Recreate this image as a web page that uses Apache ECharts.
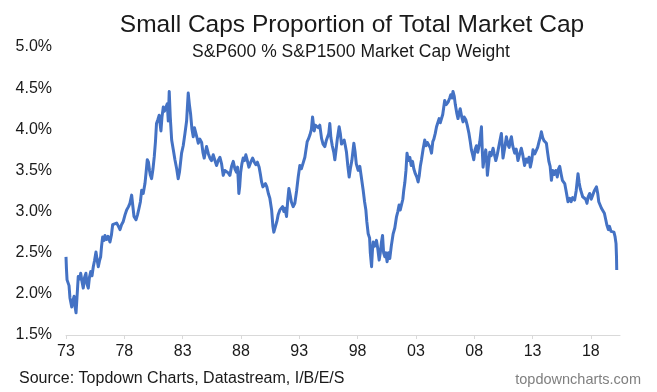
<!DOCTYPE html>
<html>
<head>
<meta charset="utf-8">
<script src="https://cdn.jsdelivr.net/npm/echarts@6/dist/echarts.min.js"></script>
<style>
html,body{margin:0;padding:0;background:#fff;}
#chart{width:657px;height:392px;}
</style>
</head>
<body>
<div id="chart"></div>
<script>
const startYear = 1973;
// years since start (decimal) and S&P600 share of S&P1500 market cap (%)
const yearsSinceStart = [
0.00,0.04,0.09,0.17,0.26,0.34,0.49,0.60,0.69,0.77,0.86,0.94,1.05,1.16,1.26,1.37,1.48,1.59,1.71,1.80,
1.91,2.01,2.12,2.23,2.34,2.44,2.57,2.66,2.77,2.87,2.97,3.05,3.14,3.26,3.34,3.47,3.60,3.77,3.90,4.00,
4.16,4.34,4.50,4.63,4.76,4.91,5.06,5.20,5.36,5.48,5.63,5.72,5.83,6.00,6.13,6.26,6.38,6.49,6.62,6.77,
6.87,6.97,7.07,7.16,7.24,7.34,7.46,7.57,7.67,7.76,7.88,7.99,8.08,8.14,8.23,8.34,8.44,8.53,8.68,8.77,
8.85,8.94,9.06,9.20,9.34,9.49,9.62,9.73,9.91,10.05,10.20,10.34,10.48,10.58,10.68,10.80,10.91,11.01,11.14,11.23,
11.34,11.48,11.63,11.74,11.85,11.95,12.05,12.21,12.34,12.48,12.62,12.77,12.91,13.05,13.20,13.34,13.48,13.62,13.77,13.91,
14.05,14.20,14.34,14.48,14.61,14.71,14.78,14.82,14.89,14.97,15.08,15.19,15.31,15.42,15.55,15.68,15.84,16.00,16.15,16.28,
16.41,16.56,16.67,16.77,16.88,16.97,17.10,17.22,17.35,17.48,17.63,17.74,17.82,17.95,18.08,18.19,18.34,18.48,18.57,18.68,
18.77,18.91,19.02,19.11,19.22,19.32,19.48,19.62,19.77,19.91,20.05,20.18,20.31,20.48,20.68,20.78,20.91,21.04,21.14,21.28,
21.38,21.48,21.63,21.76,21.91,22.04,22.19,22.31,22.45,22.53,22.62,22.71,22.83,22.96,23.05,23.18,23.26,23.42,23.52,23.62,
23.74,23.85,23.95,24.05,24.16,24.28,24.38,24.51,24.68,24.79,24.89,25.05,25.19,25.32,25.48,25.60,25.71,25.79,25.91,26.03,
26.09,26.20,26.27,26.34,26.48,26.62,26.73,26.85,26.95,27.04,27.14,27.23,27.34,27.42,27.53,27.65,27.76,27.89,28.05,28.19,
28.34,28.45,28.56,28.66,28.77,28.88,28.96,29.05,29.15,29.24,29.35,29.48,29.60,29.71,29.82,29.95,30.08,30.19,30.29,30.38,
30.48,30.62,30.76,30.87,30.98,31.11,31.22,31.34,31.45,31.54,31.66,31.77,31.88,31.99,32.09,32.18,32.30,32.47,32.60,32.76,
32.90,32.99,33.10,33.18,33.29,33.38,33.50,33.61,33.71,33.80,33.93,34.04,34.14,34.27,34.40,34.55,34.66,34.76,34.85,34.96,
35.07,35.19,35.30,35.39,35.48,35.62,35.69,35.76,35.86,35.99,36.07,36.13,36.25,36.33,36.46,36.62,36.72,36.85,36.96,37.06,
37.19,37.33,37.40,37.47,37.62,37.76,37.87,38.00,38.09,38.19,38.30,38.47,38.60,38.75,38.90,39.04,39.15,39.32,39.45,39.57,
39.70,39.81,39.93,40.04,40.19,40.33,40.44,40.56,40.66,40.76,40.87,40.99,41.09,41.19,41.29,41.40,41.51,41.62,41.73,41.86,
41.99,42.12,42.23,42.33,42.46,42.56,42.67,42.76,42.89,43.04,43.19,43.31,43.44,43.61,43.74,43.90,44.00,44.09,44.19,44.30,
44.43,44.56,44.67,44.77,44.90,45.03,45.16,45.29,45.48,45.59,45.68,45.77,45.91,46.02,46.16,46.28,46.37,46.50,46.60,46.73,
46.85,46.98,47.07,47.16,47.20,47.22
];
const smallCapShare = [
2.45,2.30,2.17,2.15,2.10,1.95,1.84,1.92,1.97,1.85,1.77,1.95,2.21,2.18,2.25,2.15,2.07,2.20,2.25,2.12,
2.07,2.20,2.27,2.22,2.33,2.40,2.51,2.42,2.33,2.40,2.45,2.58,2.69,2.65,2.71,2.66,2.70,2.63,2.72,2.84,
2.82,2.86,2.82,2.78,2.84,2.88,2.96,3.02,3.06,3.10,3.20,3.08,2.94,2.90,2.96,3.04,3.12,3.26,3.22,3.34,
3.48,3.63,3.60,3.50,3.44,3.40,3.52,3.67,3.85,4.07,4.12,4.17,4.05,3.98,4.15,4.27,4.22,4.20,4.31,4.10,
4.46,4.15,3.87,3.75,3.63,3.52,3.40,3.48,3.71,3.80,3.95,4.10,4.44,4.30,4.19,4.00,3.91,4.02,4.00,3.90,
3.83,3.88,3.84,3.72,3.65,3.72,3.79,3.70,3.65,3.62,3.69,3.62,3.56,3.62,3.66,3.58,3.44,3.50,3.52,3.47,
3.44,3.55,3.61,3.52,3.48,3.54,3.35,3.22,3.30,3.47,3.58,3.65,3.62,3.69,3.62,3.54,3.60,3.65,3.60,3.57,
3.60,3.54,3.45,3.36,3.30,3.28,3.34,3.30,3.22,3.16,3.02,2.82,2.75,2.76,2.88,2.96,3.02,3.04,3.06,3.00,
3.04,2.94,3.15,3.28,3.20,3.12,3.06,3.10,3.25,3.42,3.56,3.52,3.58,3.66,3.85,3.88,3.93,4.00,4.15,3.98,
4.05,4.07,4.02,4.05,3.89,3.82,3.79,3.86,3.84,3.95,4.07,3.90,3.80,3.72,3.63,3.78,3.88,4.03,3.95,3.82,
3.80,3.87,3.80,3.72,3.56,3.42,3.52,3.62,3.83,3.72,3.58,3.50,3.55,3.42,3.26,3.12,3.02,2.88,2.73,2.68,
2.50,2.33,2.52,2.63,2.58,2.65,2.55,2.41,2.50,2.62,2.71,2.50,2.45,2.50,2.39,2.50,2.43,2.58,2.73,2.80,
2.94,3.00,3.08,3.02,3.00,3.15,3.26,3.35,3.50,3.71,3.62,3.66,3.56,3.61,3.52,3.46,3.42,3.36,3.44,3.55,
3.63,3.76,3.87,3.80,3.84,3.82,3.78,3.71,3.85,3.88,3.95,4.03,4.08,4.13,4.08,4.10,4.18,4.35,4.30,4.33,
4.38,4.42,4.38,4.46,4.40,4.30,4.20,4.13,4.20,4.25,4.15,4.09,4.15,4.12,4.05,3.95,3.85,3.75,3.70,3.63,
3.75,3.80,3.72,3.78,3.85,4.03,3.75,3.54,3.65,3.75,3.62,3.44,3.60,3.72,3.68,3.77,3.70,3.62,3.68,3.70,
3.85,3.95,3.80,3.65,3.78,3.91,3.82,3.78,3.86,3.91,3.80,3.71,3.76,3.62,3.70,3.77,3.70,3.56,3.64,3.60,
3.66,3.54,3.62,3.75,3.70,3.72,3.78,3.85,3.90,3.97,3.90,3.86,3.87,3.83,3.72,3.61,3.55,3.38,3.50,3.45,
3.50,3.42,3.52,3.55,3.45,3.38,3.40,3.34,3.24,3.12,3.16,3.12,3.17,3.14,3.25,3.46,3.35,3.28,3.26,3.18,
3.20,3.15,3.10,3.18,3.22,3.15,3.20,3.25,3.30,3.22,3.12,3.10,3.04,3.06,2.98,2.90,2.84,2.78,2.82,2.76,
2.78,2.75,2.70,2.61,2.45,2.29
];
const xTickYears = [1973,1978,1983,1988,1993,1998,2003,2008,2013,2018];
const yTicks = [1.5,2.0,2.5,3.0,3.5,4.0,4.5,5.0];

const seriesData = yearsSinceStart.map((t, i) => [startYear + t, smallCapShare[i]]);
const FONT = '"Liberation Sans", Arial, sans-serif';

const chart = echarts.init(document.getElementById('chart'), null, {renderer: 'canvas'});
chart.setOption({
  animation: false,
  backgroundColor: '#ffffff',
  title: [
    {text: 'Small Caps Proportion of Total Market Cap', left: 347, top: 8, textAlign: 'center',
     textStyle: {fontFamily: FONT, fontSize: 24.5, fontWeight: 'normal', color: '#1a1a1a'}},
    {text: 'S&P600 % S&P1500 Market Cap Weight', left: 346, top: 38, textAlign: 'center',
     textStyle: {fontFamily: FONT, fontSize: 17.5, fontWeight: 'normal', color: '#1a1a1a'}},
    {text: 'Source: Topdown Charts, Datastream, I/B/E/S', left: 14, top: 366,
     textStyle: {fontFamily: FONT, fontSize: 16, fontWeight: 'normal', color: '#1a1a1a'}},
    {text: 'topdowncharts.com', right: 11, top: 367,
     textStyle: {fontFamily: FONT, fontSize: 14.5, fontWeight: 'normal', color: '#7f7f7f'}}
  ],
  grid: {left: 66, right: 37, top: 47, bottom: 57, containLabel: false},
  xAxis: {
    type: 'value', min: startYear, max: 2020.5,
    axisLine: {show: true, lineStyle: {color: '#d9d9d9', width: 1}},
    axisTick: {show: true, length: 4, lineStyle: {color: '#d9d9d9'}, customValues: xTickYears},
    splitLine: {show: false},
    axisLabel: {customValues: xTickYears, margin: 9, fontFamily: FONT, fontSize: 16, color: '#1a1a1a',
      formatter: v => String(Math.round(v) % 100).padStart(2, '0')}
  },
  yAxis: {
    type: 'value', min: 1.5, max: 5.0, interval: 0.5,
    axisLine: {show: false}, axisTick: {show: false}, splitLine: {show: false},
    axisLabel: {customValues: yTicks, margin: 14, fontFamily: FONT, fontSize: 16, color: '#1a1a1a',
      formatter: v => v.toFixed(1) + '%'}
  },
  series: [{
    type: 'line', data: seriesData, showSymbol: false, smooth: false,
    lineStyle: {color: '#4472c4', width: 3, join: 'round'}
  }]
});
</script>
</body>
</html>
